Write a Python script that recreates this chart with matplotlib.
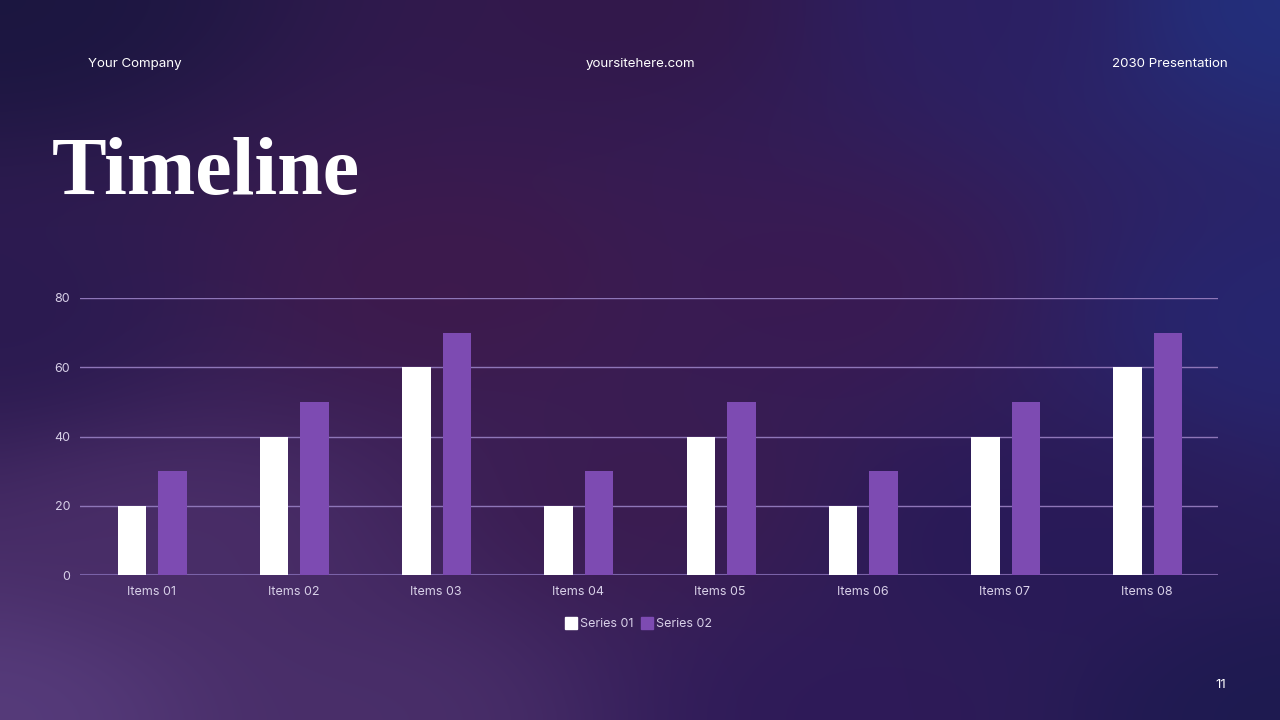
import numpy as np
import matplotlib
matplotlib.use("Agg")
import matplotlib.pyplot as plt
from matplotlib.lines import Line2D

categories = ["Items 01", "Items 02", "Items 03", "Items 04", "Items 05", "Items 06", "Items 07", "Items 08"]
series01 = [20, 40, 60, 20, 40, 20, 40, 60]
series02 = [30, 50, 70, 30, 50, 30, 50, 70]
yticks = [0, 20, 40, 60, 80]
series_names = ["Series 01", "Series 02"]

W, H = 1280, 720
fig = plt.figure(figsize=(12.8, 7.2), dpi=100)

# background gradient
bg = fig.add_axes([0, 0, 1, 1])
bg.set_axis_off()
anchors = [
    (0.0, 0.0, "#1b1640"), (0.5, 0.0, "#33184a"), (0.78, 0.0, "#2c1f62"), (1.0, 0.0, "#22307e"),
    (0.0, 0.45, "#2a1a50"), (0.35, 0.4, "#3e1a4c"), (0.65, 0.4, "#3a1a52"), (1.0, 0.45, "#262670"),
    (0.0, 1.0, "#573c7c"), (0.3, 1.0, "#4a2f6a"), (0.65, 1.0, "#2e1a58"), (1.0, 1.0, "#1d1a50"),
    (0.15, 0.75, "#4a2e68"), (0.8, 0.75, "#281a58"), (0.5, 0.7, "#3b1c50"),
]
gx, gy = np.meshgrid(np.linspace(0, 1, 160), np.linspace(0, 1, 90))
num = np.zeros(gx.shape + (3,))
den = np.zeros(gx.shape)
for ax_, ay_, c in anchors:
    rgb = np.array(matplotlib.colors.to_rgb(c))
    d2 = (gx - ax_) ** 2 + (gy - ay_) ** 2
    w = 1.0 / (d2 + 0.01) ** 1.5
    num += w[..., None] * rgb
    den += w
img = num / den[..., None]
bg.imshow(img, extent=[0, 1, 0, 1], aspect="auto", interpolation="bicubic", origin="upper")
bg.set_xlim(0, 1)
bg.set_ylim(0, 1)

hdr_font = "Inter"
fig.text(88 / W, 1 - 64 / H, "Your Company", color="white", fontsize=9.6, family=hdr_font, va="center", ha="left")
fig.text(640 / W, 1 - 64 / H, "yoursitehere.com", color="white", fontsize=9.6, family=hdr_font, va="center", ha="center")
fig.text(1228 / W, 1 - 64 / H, "2030 Presentation", color="white", fontsize=9.6, family=hdr_font, va="center", ha="right")
fig.text(1226 / W, 1 - 685 / H, "11", color="white", fontsize=9.6, family=hdr_font, va="center", ha="right")
fig.text(52 / W, 1 - 194 / H, "Timeline", color="white", fontsize=59, family="Liberation Serif",
         weight="bold", va="baseline", ha="left")

ax = fig.add_axes([80 / W, 1 - 575 / H, (1218 - 80) / W, (575 - 298) / H])
ax.patch.set_alpha(0)
x = np.arange(len(categories))
bw = 0.2
ax.bar(x - 0.135, series01, width=bw, color="white", zorder=3)
ax.bar(x + 0.15, series02, width=bw, color="#7d4bb2", zorder=3)
ax.set_xlim(-0.5, len(categories) - 0.5)
ax.set_ylim(0, 80)
ax.set_yticks(yticks)
ax.set_xticks(x)
ax.set_xticklabels(categories)
for s in ax.spines.values():
    s.set_visible(False)
ax.grid(axis="y", color="#8e76b8", linewidth=1, zorder=0)
ax.axhline(0, color="#7a62a8", linewidth=1.5, zorder=2)
ax.tick_params(axis="both", length=0, colors="#d8d0e8", labelsize=9)
ax.tick_params(axis="y", pad=7)
ax.tick_params(axis="x", pad=8)
for lbl in ax.get_xticklabels() + ax.get_yticklabels():
    lbl.set_family("Inter")

handles = [Line2D([], [], marker="s", linestyle="none", markersize=9, markerfacecolor="white", markeredgecolor="white"),
           Line2D([], [], marker="s", linestyle="none", markersize=9, markerfacecolor="#7d4bb2", markeredgecolor="#7d4bb2")]
leg = fig.legend(handles, series_names, loc="center", bbox_to_anchor=(638 / W, 1 - 624 / H), ncol=2,
                 frameon=False, handletextpad=0.2, columnspacing=0.6, handlelength=1.0,
                 prop={"family": "Inter", "size": 9})
for t in leg.get_texts():
    t.set_color("#d8d0e8")

fig.savefig("out.png", dpi=100)
